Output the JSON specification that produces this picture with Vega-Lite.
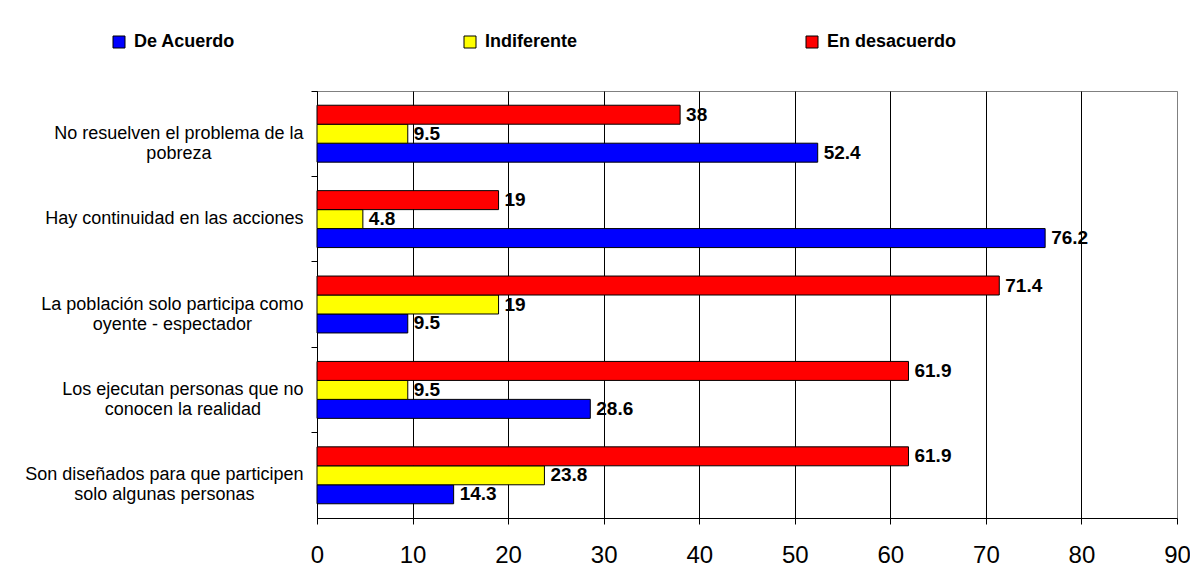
{
  "$schema": "https://vega.github.io/schema/vega-lite/v6.json",
  "width": 860,
  "height": 427,
  "autosize": {"type": "none"},
  "padding": {"left": 317, "top": 91, "right": 13, "bottom": 48},
  "background": "white",
  "config": {
    "view": {"stroke": "#808080", "strokeWidth": 1},
    "font": "Liberation Sans"
  },
  "data": {
    "values": [
      {"item": "No resuelven el problema de la pobreza", "response": "De Acuerdo", "pct": 52.4},
      {"item": "No resuelven el problema de la pobreza", "response": "Indiferente", "pct": 9.5},
      {"item": "No resuelven el problema de la pobreza", "response": "En desacuerdo", "pct": 38},
      {"item": "Hay continuidad en las acciones", "response": "De Acuerdo", "pct": 76.2},
      {"item": "Hay continuidad en las acciones", "response": "Indiferente", "pct": 4.8},
      {"item": "Hay continuidad en las acciones", "response": "En desacuerdo", "pct": 19},
      {"item": "La población solo participa como oyente - espectador", "response": "De Acuerdo", "pct": 9.5},
      {"item": "La población solo participa como oyente - espectador", "response": "Indiferente", "pct": 19},
      {"item": "La población solo participa como oyente - espectador", "response": "En desacuerdo", "pct": 71.4},
      {"item": "Los ejecutan personas que no conocen la realidad", "response": "De Acuerdo", "pct": 28.6},
      {"item": "Los ejecutan personas que no conocen la realidad", "response": "Indiferente", "pct": 9.5},
      {"item": "Los ejecutan personas que no conocen la realidad", "response": "En desacuerdo", "pct": 61.9},
      {"item": "Son diseñados para que participen solo algunas personas", "response": "De Acuerdo", "pct": 14.3},
      {"item": "Son diseñados para que participen solo algunas personas", "response": "Indiferente", "pct": 23.8},
      {"item": "Son diseñados para que participen solo algunas personas", "response": "En desacuerdo", "pct": 61.9}
    ]
  },
  "encoding": {
    "y": {
      "field": "item",
      "type": "nominal",
      "sort": [
        "No resuelven el problema de la pobreza",
        "Hay continuidad en las acciones",
        "La población solo participa como oyente - espectador",
        "Los ejecutan personas que no conocen la realidad",
        "Son diseñados para que participen solo algunas personas"
      ],
      "scale": {"paddingInner": 0, "paddingOuter": 0},
      "axis": {
        "title": null,
        "bandPosition": 0,
        "labelOffset": 0,
        "ticks": true,
        "tickSize": 6,
        "tickColor": "black",
        "domainColor": "black",
        "grid": false,
        "labelAlign": "center",
        "labelBaseline": "middle",
        "labelFont": "Liberation Sans",
        "labelFontSize": 18,
        "labelColor": "black",
        "labelLineHeight": 20,
        "labelLimit": 0,
        "labelPadding": {
          "condition": [
            {"test": "datum.value == 'No resuelven el problema de la pobreza'", "value": 132.6},
            {"test": "datum.value == 'Hay continuidad en las acciones'", "value": 137.1},
            {"test": "datum.value == 'La población solo participa como oyente - espectador'", "value": 139.1},
            {"test": "datum.value == 'Los ejecutan personas que no conocen la realidad'", "value": 128.6}
          ],
          "value": 147.1
        },
        "labelExpr": "datum.value == 'No resuelven el problema de la pobreza' ? ['No resuelven el problema de la', 'pobreza'] : datum.value == 'La población solo participa como oyente - espectador' ? ['La población solo participa como', 'oyente - espectador'] : datum.value == 'Los ejecutan personas que no conocen la realidad' ? ['Los ejecutan personas que no', 'conocen la realidad'] : datum.value == 'Son diseñados para que participen solo algunas personas' ? ['Son diseñados para que participen', 'solo algunas personas'] : datum.label"
      }
    },
    "yOffset": {
      "field": "response",
      "type": "nominal",
      "scale": {"domain": ["En desacuerdo", "Indiferente", "De Acuerdo"], "paddingOuter": 0.75, "paddingInner": 0}
    },
    "x": {
      "field": "pct",
      "type": "quantitative",
      "scale": {"domain": [0, 90], "nice": false},
      "axis": {
        "title": null,
        "values": [0, 10, 20, 30, 40, 50, 60, 70, 80, 90],
        "grid": true,
        "gridColor": {"condition": {"test": "datum.value == 90", "value": "#808080"}, "value": "black"},
        "gridWidth": 1,
        "tickSize": 6,
        "tickColor": "black",
        "domainColor": "black",
        "labelFont": "Liberation Sans",
        "labelFontSize": 24,
        "labelColor": "black",
        "labelPadding": 19,
        "labelFlush": false,
        "labelOverlap": false
      }
    }
  },
  "layer": [
    {
      "mark": {"type": "bar", "stroke": "black", "strokeWidth": 1},
      "encoding": {
        "color": {
          "field": "response",
          "type": "nominal",
          "scale": {"domain": ["De Acuerdo", "Indiferente", "En desacuerdo"], "range": ["#0000FF", "#FFFF00", "#FF0000"]},
          "legend": {
            "orient": "none",
            "legendX": -207,
            "legendY": -58,
            "direction": "horizontal",
            "title": null,
            "symbolType": "square",
            "symbolSize": 144,
            "symbolStrokeColor": "black",
            "symbolStrokeWidth": 1,
            "symbolOpacity": 1,
            "labelFont": "Liberation Sans",
            "labelFontSize": 18,
            "labelFontWeight": "bold",
            "labelColor": "black",
            "labelOffset": 6,
            "columnPadding": 225,
            "gridAlign": "each",
            "padding": 0
          }
        }
      }
    },
    {
      "mark": {"type": "text", "align": "left", "baseline": "middle", "dx": 6, "fontWeight": "bold", "fontSize": 19, "font": "Liberation Sans", "color": "black"},
      "encoding": {
        "text": {"field": "pct", "type": "quantitative"}
      }
    }
  ]
}
